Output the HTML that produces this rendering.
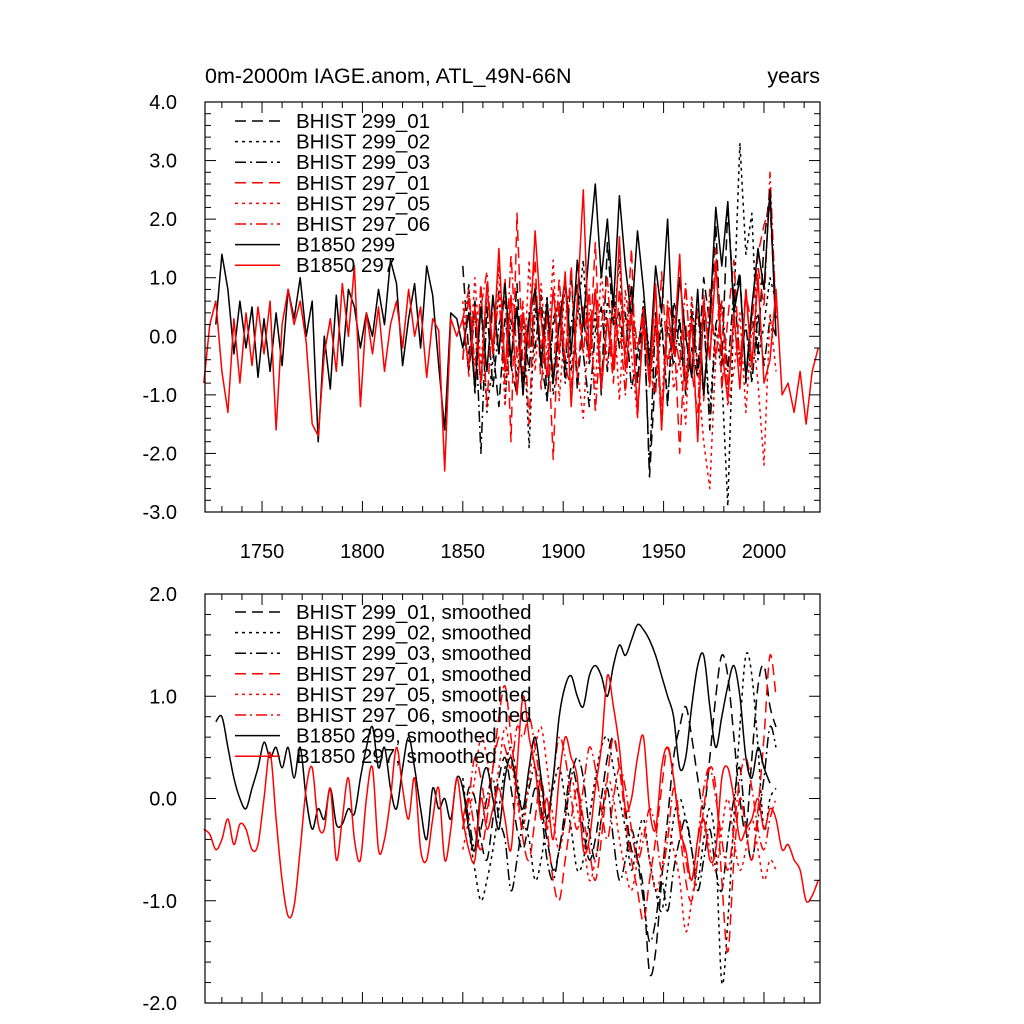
<!DOCTYPE html>
<html><head><meta charset="utf-8">
<style>
html,body{margin:0;padding:0;background:#fff;}
svg{display:block;font-family:"Liberation Sans",sans-serif;}
</style></head>
<body>
<svg id="chart" width="1024" height="1024" viewBox="0 0 1024 1024">
<text x="205" y="83" font-size="21.5">0m-2000m IAGE.anom, ATL_49N-66N</text>
<text x="820" y="83" font-size="21.5" text-anchor="end">years</text>
<g id="top"></g>
<g id="bot"></g>
</svg>
<script>
// ---- data (yearly start / step and values) ----
const xTickLabels = [1750, 1800, 1850, 1900, 1950, 2000];
const topYTicks = [4, 3, 2, 1, 0, -1, -2, -3];
const botYTicks = [2, 1, 0, -1, -2];
const ctrlStart297 = 1721, ctrlStart299 = 1727, histStart = 1850, step = 3;

const b1850_297 = [-0.8,0.2,0.6,-0.6,-1.3,0.3,-0.8,0.4,-0.5,0.5,-0.3,0.6,-1.6,0.2,0.8,0.2,0.6,-0.1,-1.5,-1.7,-0.3,0.3,-0.6,0.9,0.0,1.2,-1.2,0.4,-0.3,0.5,-0.6,0.2,0.6,-0.2,0.8,0.0,0.5,-0.7,0.3,0.1,-2.3,0.3,0.0,0.3,-0.5,0.5,-0.8,0.9,-0.3,1.5,-0.6,0.7,-1.0,0.4,-0.2,1.8,0.3,-0.7,0.8,-0.3,1.1,-1.2,0.6,2.5,-0.4,0.8,-0.9,0.3,-0.5,1.7,-0.6,0.4,-1.3,0.2,-0.8,0.9,-1.6,0.5,-0.3,1.4,-0.9,0.3,-1.8,0.6,-0.4,1.2,-0.2,-1.1,0.4,-0.9,0.8,-0.5,1.0,-0.8,-0.4,0.8,-1.0,-0.8,-1.3,-0.6,-1.5,-0.6,-0.2];
const b1850_299 = [0.2,1.4,0.8,-0.3,0.6,-0.2,0.5,-0.7,0.3,-0.6,0.4,-0.5,0.8,0.3,1.0,0.0,0.6,-1.8,0.0,-0.9,0.7,-0.5,0.8,0.5,-0.2,0.4,0.0,0.8,0.2,1.3,0.9,-0.5,0.3,0.9,-0.2,1.2,0.7,-0.5,-1.6,0.4,0.3,-0.2,0.4,-0.9,0.5,-0.6,0.7,-0.3,0.9,-0.4,0.5,-1.0,0.3,0.8,-0.5,0.6,-0.8,0.2,1.0,-0.3,1.3,0.2,1.5,2.6,1.0,2.0,0.5,2.4,1.2,0.3,1.8,0.8,-0.5,1.2,0.4,2.0,-0.3,1.0,0.0,-0.7,0.8,-1.0,0.3,2.2,1.2,2.3,0.4,1.0,-0.7,0.5,1.5,0.8,2.5,0.0];
const bh299_01 = [1.2,-0.3,0.6,-0.9,0.8,-0.2,-1.2,0.3,-0.5,0.9,-0.8,0.4,-0.2,0.7,-1.1,0.2,0.5,-0.6,1.1,-0.9,0.3,-0.4,0.8,-1.0,1.6,0.2,0.4,-0.3,0.9,-0.8,0.5,-2.4,-0.6,0.3,-1.2,0.6,0.2,-1.0,0.4,-0.6,1.0,0.2,1.9,-0.5,2.2,0.6,1.1,-0.8,0.4,-0.3,1.6,2.5,0.3];
const bh299_02 = [-0.4,0.9,-1.0,0.6,-1.3,-0.4,0.8,-1.1,0.3,-0.7,0.4,-1.9,0.5,-0.3,0.7,-1.0,-0.4,0.9,-0.6,0.3,1.3,-0.5,0.4,-0.9,0.6,0.2,1.3,-0.6,0.3,-0.4,0.6,-0.3,-0.9,0.2,-1.1,0.4,-0.2,-0.8,0.6,-0.5,0.3,-1.3,0.2,-0.7,-2.9,0.5,3.3,1.4,2.1,-0.4,0.2,1.0,0.6];
const bh299_03 = [0.3,-0.6,0.4,-2.0,0.5,-0.9,0.2,0.6,-0.5,-1.0,0.3,-0.6,0.8,-0.4,-1.1,0.3,0.6,-0.8,0.2,0.9,-0.3,-1.2,0.1,0.5,-0.6,0.7,-0.2,0.4,-0.9,-0.3,0.5,-2.3,0.4,-1.4,0.2,-0.5,0.3,-0.9,-0.2,-0.7,0.4,-1.6,0.2,0.6,-0.6,0.8,-0.4,0.2,-0.8,0.4,-0.5,0.3,0.0];
const bh297_01 = [-0.4,0.7,-0.8,0.9,-1.2,0.6,-0.3,1.0,-1.8,2.1,-0.6,0.3,1.3,-0.9,0.4,-2.1,0.6,-0.4,1.2,-0.7,0.5,-0.4,1.6,-0.9,0.3,-0.8,0.8,-0.3,1.5,-1.4,0.4,-0.6,-1.0,1.1,-0.5,0.3,-2.0,0.2,-0.6,-1.3,0.7,-0.4,1.5,-0.9,0.3,1.3,-0.5,0.7,0.2,1.4,1.9,2.2,0.3];
const bh297_05 = [0.6,-0.7,1.0,-0.5,0.8,-0.3,1.2,-1.2,0.6,0.4,-1.0,1.3,-0.6,0.9,-0.4,1.3,-1.1,0.3,1.0,-0.6,-1.4,0.4,-0.9,1.2,-0.5,0.6,-1.1,0.8,-0.3,-1.4,0.5,-0.8,0.2,-1.2,0.6,-0.9,-0.4,-1.5,0.7,-0.6,-1.8,-2.6,-0.3,0.5,-1.2,-0.6,0.4,-1.3,0.2,-0.8,-2.2,0.4,-0.6];
const bh297_06 = [0.3,0.8,-0.5,0.5,1.1,-0.3,0.7,-0.8,1.4,-0.4,0.6,-1.5,0.9,-0.2,0.4,-0.7,1.0,-0.5,-0.9,0.6,-0.3,0.8,-1.3,0.2,1.0,-0.6,0.3,-1.0,0.7,-0.2,0.5,-0.9,0.3,-1.6,0.6,0.2,-0.5,0.9,-0.7,0.5,-1.1,0.8,-0.4,0.6,-0.9,0.3,-0.5,0.8,-0.6,1.2,0.5,2.8,0.4];

const sm297 = [-0.3,-0.35,-0.5,-0.4,-0.2,-0.45,-0.25,-0.3,-0.5,-0.45,0.0,0.45,-0.2,-0.8,-1.15,-1.05,-0.5,0.1,0.3,-0.25,-0.3,0.1,-0.6,-0.2,0.2,-0.4,-0.6,0.0,0.3,-0.5,-0.4,0.0,0.5,0.1,-0.2,0.2,-0.5,-0.6,-0.2,0.1,-0.6,-0.3,0.2,-0.2,-0.5,-0.6,0.0,-0.3,-0.1,0.1,-0.2,-0.5,0.3,1.0,0.6,0.3,-0.2,0.0,-0.4,0.2,0.6,0.4,0.2,-0.5,-0.4,0.1,0.5,1.2,0.9,0.5,-0.1,0.0,0.4,0.6,-0.1,-0.3,0.3,0.5,0.2,-0.3,-0.5,-0.8,-0.4,-0.2,-0.6,-0.5,0.2,0.3,0.0,-0.4,-0.3,-0.2,0.0,-0.3,-0.1,-0.2,-0.5,-0.45,-0.6,-0.7,-1.0,-0.95,-0.8];
const sm299 = [0.75,0.8,0.5,0.2,0.0,-0.1,0.1,0.3,0.55,0.4,0.5,0.3,0.5,0.2,0.5,0.0,-0.3,-0.1,-0.2,0.1,-0.25,-0.25,-0.1,-0.15,0.2,0.5,0.7,0.3,0.5,0.1,-0.1,0.3,0.6,0.3,-0.1,-0.4,0.1,-0.1,0.0,-0.2,0.2,0.1,-0.3,-0.5,0.1,0.3,0.0,-0.3,0.2,0.4,0.1,-0.1,0.3,0.6,0.2,-0.2,0.2,0.8,1.1,1.2,1.0,0.9,1.2,1.3,1.2,1.0,1.3,1.5,1.4,1.55,1.7,1.65,1.55,1.4,1.2,1.0,0.8,0.3,0.4,0.9,1.3,1.4,0.9,0.5,0.8,1.1,1.3,1.0,0.4,0.2,0.5,0.3,0.15];
const smh299_01 = [-0.3,0.1,0.0,-0.4,-0.6,-0.2,0.2,0.4,0.1,-0.3,-0.5,-0.2,0.1,-0.1,-0.4,-0.7,-0.5,-0.1,0.3,0.1,-0.3,-0.6,-0.4,0.0,0.4,0.6,0.3,-0.1,-0.5,-0.6,-0.9,-1.7,-1.5,-0.8,-0.2,0.4,0.7,0.9,0.6,0.2,-0.1,0.4,1.0,1.4,1.2,0.6,0.0,-0.3,0.4,1.1,1.3,0.9,0.7];
const smh299_02 = [0.2,-0.3,-0.7,-1.0,-0.8,-0.5,-0.1,0.3,0.5,0.2,-0.2,-0.4,-0.8,-0.6,-0.2,0.1,0.3,0.0,-0.3,-0.7,-0.6,-0.2,0.2,0.5,0.6,0.3,0.0,-0.3,-0.7,-0.4,-0.2,-0.6,-0.9,-1.1,-0.7,-0.2,0.0,-0.2,-0.5,-0.8,-0.4,-0.1,-0.5,-1.8,-1.2,-0.2,0.7,1.4,1.2,0.5,-0.3,0.0,0.1];
const smh299_03 = [0.1,-0.2,-0.5,-0.3,0.0,0.2,-0.2,-0.4,-0.9,-0.6,-0.2,0.1,0.3,-0.1,-0.6,-0.8,-0.5,-0.2,0.2,0.4,0.2,-0.3,-0.6,-0.2,0.1,-0.4,-0.8,-0.6,-0.3,-0.6,-1.0,-1.4,-1.2,-0.8,-1.1,-0.7,-0.4,-0.2,-0.5,-0.9,-0.6,-0.3,-0.7,-0.9,-0.4,0.0,0.3,-0.3,-0.6,-0.2,0.2,0.7,0.5];
const smh297_01 = [-0.2,0.0,-0.3,-0.5,-0.2,0.3,0.8,1.1,0.6,0.1,-0.4,-0.6,-0.2,0.2,-0.3,-0.8,-1.0,-0.6,-0.2,0.1,-0.2,-0.5,-0.8,-0.4,0.2,0.6,0.3,-0.2,-0.6,-0.9,-1.2,-0.8,-0.4,0.1,0.5,0.2,-0.3,-0.8,-1.0,-0.6,-0.1,0.3,0.1,-0.8,-1.5,-0.6,0.0,-0.3,-0.6,-0.1,0.6,1.4,1.0];
const smh297_05 = [-0.5,-0.2,0.2,0.6,0.4,0.0,0.3,0.7,0.4,0.0,-0.3,0.2,0.5,0.7,0.3,-0.2,-0.5,-0.2,0.2,-0.1,-0.4,-0.8,-0.6,-0.2,0.2,0.0,-0.4,-0.7,-0.9,-0.6,-0.3,-0.6,-0.9,-0.7,-0.3,-0.5,-0.8,-1.3,-1.0,-0.6,-0.2,-0.5,-0.7,-0.3,0.0,-0.4,-0.7,-0.5,-0.2,-0.5,-0.8,-0.6,-0.7];
const smh297_06 = [-0.3,0.0,0.4,0.2,-0.1,0.3,0.6,0.5,0.3,0.7,0.6,0.8,0.5,0.1,-0.3,0.2,0.6,0.4,0.0,-0.3,0.1,0.5,0.3,-0.1,-0.4,0.0,0.3,0.1,-0.3,-0.6,-0.4,-0.1,-0.3,-0.7,-0.4,0.1,-0.2,-0.6,-0.8,-0.4,0.1,0.3,0.0,-0.4,-0.7,-0.3,0.2,0.4,0.1,-0.3,-0.5,-0.2,0.0];

// ---- geometry ----
const X0 = 205, X1 = 820, yearMin = 1721.6, yearMax = 2027.9;
const xs = yr => X0 + (yr - yearMin) / (yearMax - yearMin) * (X1 - X0);
const NS = 'http://www.w3.org/2000/svg';
function mk(tag, attrs, parent) {
  const e = document.createElementNS(NS, tag);
  for (const k in attrs) e.setAttribute(k, attrs[k]);
  parent.appendChild(e);
  return e;
}
const DASH = {solid: '', dash: '11,6', dot: '3,4', dashdot: '11,4,2,4'};

function smoothPath(P) {
  let d = 'M' + P[0][0].toFixed(1) + ',' + P[0][1].toFixed(1);
  for (let i = 0; i < P.length - 1; i++) {
    const p0 = P[Math.max(0, i - 1)], p1 = P[i], p2 = P[i + 1], p3 = P[Math.min(P.length - 1, i + 2)];
    const c1x = p1[0] + (p2[0] - p0[0]) / 6, c1y = p1[1] + (p2[1] - p0[1]) / 6;
    const c2x = p2[0] - (p3[0] - p1[0]) / 6, c2y = p2[1] - (p3[1] - p1[1]) / 6;
    d += ' C' + c1x.toFixed(1) + ',' + c1y.toFixed(1) + ' ' + c2x.toFixed(1) + ',' + c2y.toFixed(1) + ' ' + p2[0].toFixed(1) + ',' + p2[1].toFixed(1);
  }
  return d;
}

function panel(g, top, bot, vmin, vmax, yTicks, showX, series, legendY0, legendSuffix, nameP, smooth) {
  const ys = v => bot - (v - vmin) / (vmax - vmin) * (bot - top);
  series.forEach(s => {
    const P = s.data.map((v, i) => [xs(s.start + i * step), ys(v)]);
    let el;
    if (smooth) {
      el = mk('path', {d: smoothPath(P), fill: 'none', stroke: s.color, 'stroke-width': 1.5, 'stroke-dasharray': DASH[s.style]}, g);
    } else {
      el = mk('polyline', {points: P.map(p => p[0].toFixed(1) + ',' + p[1].toFixed(1)).join(' '), fill: 'none', stroke: s.color, 'stroke-width': 1.5, 'stroke-dasharray': DASH[s.style], 'stroke-linejoin': 'round'}, g);
    }
    
    
  });
  const fr = mk('rect', {x: X0, y: top, width: X1 - X0, height: bot - top, fill: 'none', stroke: '#000', 'stroke-width': 1.2}, g);
  
  
  for (let v = vmin; v <= vmax + 1e-6; v += 0.2) {
    const major = Math.abs(v - Math.round(v)) < 1e-6;
    const L = major ? 11 : 6, y = ys(v);
    mk('line', {x1: X0, x2: X0 + L, y1: y, y2: y, stroke: '#000', 'stroke-width': 1}, g);
    mk('line', {x1: X1, x2: X1 - L, y1: y, y2: y, stroke: '#000', 'stroke-width': 1}, g);
  }
  yTicks.forEach(v => {
    const t = mk('text', {x: X0 - 28, y: ys(v) + 7, 'font-size': 20, 'text-anchor': 'end'}, g);
    t.textContent = v.toFixed(1);
    
    
  });
  for (let yr = 1730; yr <= 2020; yr += 10) {
    const major = yr % 50 === 0, L = major ? 11 : 6, x = xs(yr);
    mk('line', {x1: x, x2: x, y1: bot, y2: bot - L, stroke: '#000', 'stroke-width': 1}, g);
    mk('line', {x1: x, x2: x, y1: top, y2: top + L, stroke: '#000', 'stroke-width': 1}, g);
  }
  if (showX) xTickLabels.forEach(yr => {
    const t = mk('text', {x: xs(yr), y: bot + 46, 'font-size': 20, 'text-anchor': 'middle'}, g);
    t.textContent = yr;
    
    
  });
  series.forEach((s, i) => {
    const y = legendY0 + i * 20.6;
    const ln = mk('line', {x1: 235, x2: 280, y1: y, y2: y, stroke: s.color, 'stroke-width': 1.5, 'stroke-dasharray': DASH[s.style]}, g);
    
    
    const t = mk('text', {x: 296, y: y + 7, 'font-size': 20.5}, g);
    t.textContent = s.label + legendSuffix;
    
    
  });
}

const topSeries = [
  {id: 'bhist-299-01', label: 'BHIST 299_01', data: bh299_01, start: histStart, color: '#000', style: 'dash'},
  {id: 'bhist-299-02', label: 'BHIST 299_02', data: bh299_02, start: histStart, color: '#000', style: 'dot'},
  {id: 'bhist-299-03', label: 'BHIST 299_03', data: bh299_03, start: histStart, color: '#000', style: 'dashdot'},
  {id: 'bhist-297-01', label: 'BHIST 297_01', data: bh297_01, start: histStart, color: '#f00', style: 'dash'},
  {id: 'bhist-297-05', label: 'BHIST 297_05', data: bh297_05, start: histStart, color: '#f00', style: 'dot'},
  {id: 'bhist-297-06', label: 'BHIST 297_06', data: bh297_06, start: histStart, color: '#f00', style: 'dashdot'},
  {id: 'b1850-299', label: 'B1850 299', data: b1850_299, start: ctrlStart299, color: '#000', style: 'solid'},
  {id: 'b1850-297', label: 'B1850 297', data: b1850_297, start: ctrlStart297, color: '#f00', style: 'solid'}
];
const botSeries = [
  {id: 'bhist-299-01', label: 'BHIST 299_01', data: smh299_01, start: histStart, color: '#000', style: 'dash'},
  {id: 'bhist-299-02', label: 'BHIST 299_02', data: smh299_02, start: histStart, color: '#000', style: 'dot'},
  {id: 'bhist-299-03', label: 'BHIST 299_03', data: smh299_03, start: histStart, color: '#000', style: 'dashdot'},
  {id: 'bhist-297-01', label: 'BHIST 297_01', data: smh297_01, start: histStart, color: '#f00', style: 'dash'},
  {id: 'bhist-297-05', label: 'BHIST 297_05', data: smh297_05, start: histStart, color: '#f00', style: 'dot'},
  {id: 'bhist-297-06', label: 'BHIST 297_06', data: smh297_06, start: histStart, color: '#f00', style: 'dashdot'},
  {id: 'b1850-299', label: 'B1850 299', data: sm299, start: ctrlStart299, color: '#000', style: 'solid'},
  {id: 'b1850-297', label: 'B1850 297', data: sm297, start: ctrlStart297, color: '#f00', style: 'solid'}
];
panel(document.getElementById('top'), 102, 512, -3, 4, topYTicks, true, topSeries, 121, '', 'top', false);
panel(document.getElementById('bot'), 594, 1003, -2, 2, botYTicks, false, botSeries, 612, ', smoothed', 'bottom', true);
</script>
</body></html>
